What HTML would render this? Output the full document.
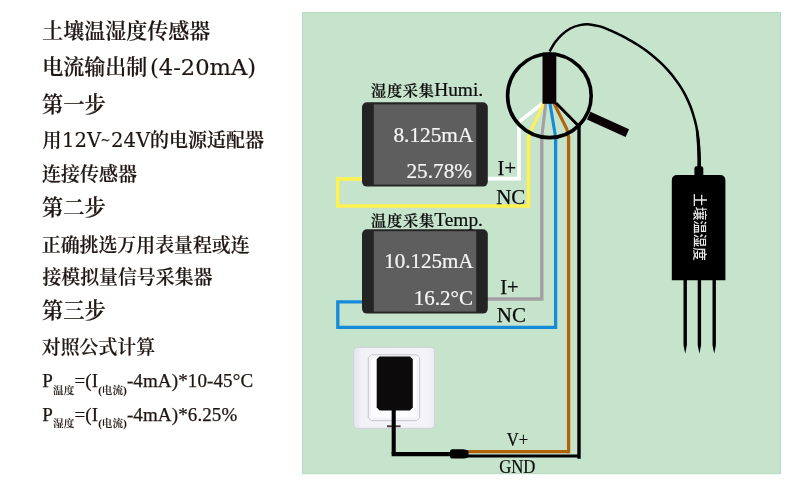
<!DOCTYPE html>
<html lang="zh-CN">
<head>
<meta charset="utf-8">
<title>土壤温湿度传感器 电流输出制(4-20mA)</title>
<style>
html,body{margin:0;padding:0;background:#fff;}
body{width:790px;height:485px;overflow:hidden;position:relative;}
svg{position:absolute;left:0;top:0;display:block;will-change:transform;}
.zh{font-family:"Liberation Serif","Noto Serif CJK SC",serif;font-weight:600;fill:#1f1512;stroke:#1f1512;stroke-width:0.18px;}
.lat{font-family:"DejaVu Serif","Liberation Serif",serif;font-weight:400;stroke:#1f1512;stroke-width:0.15px;}
.tm{font-family:"Liberation Serif","Noto Serif CJK SC",serif;font-weight:400;fill:#1f1512;stroke:#1f1512;stroke-width:0.25px;}
.sub{font-weight:600;stroke-width:0.1px;}
.lbl{font-family:"Liberation Serif","Noto Serif CJK SC",serif;font-weight:600;fill:#0d0d0d;stroke:#0d0d0d;stroke-width:0.2px;}
.io{font-family:"Liberation Serif",serif;font-weight:400;fill:#0d0d0d;stroke:#0d0d0d;stroke-width:0.25px;}
.disp{font-family:"Liberation Serif",serif;fill:#f6f6f6;stroke:#f6f6f6;stroke-width:0.2px;}
.hei{font-family:"Liberation Sans","Noto Sans CJK SC",sans-serif;fill:#e6e6e6;}
</style>
</head>
<body>
<svg width="790" height="485" viewBox="0 0 790 485">
  <!-- panel -->
  <rect x="302.5" y="12.5" width="478" height="461.2" fill="#c6e3cc"/>
  <rect x="302.5" y="12.5" width="478" height="461.2" fill="none" stroke="#b5dabf" stroke-width="1"/>

  <!-- left text -->
  <g id="lefttext">
    <text class="zh" x="42.3" y="37.7" font-size="21">土壤温湿度传感器</text>
    <text class="zh" x="42.3" y="73.8" font-size="21">电流输出制<tspan class="lat" font-size="22.6" dx="2.7" dy="1.2">(4-20mA)</tspan></text>
    <text class="zh" x="42" y="111.6" font-size="21.3">第一步</text>
    <text class="zh" y="147.2" font-size="19"><tspan x="42.4">用</tspan><tspan class="lat" font-size="19.6" x="62" dy="-0.3">12V</tspan><tspan class="lat" font-size="12" dy="-2.5" dx="-0.5">~</tspan><tspan class="lat" font-size="19.6" dy="2.5" dx="0.3">24V</tspan><tspan x="149.9" dy="0.3">的电源适配器</tspan></text>
    <text class="zh" x="42" y="180.5" font-size="19">连接传感器</text>
    <text class="zh" x="42" y="215" font-size="21.3">第二步</text>
    <text class="zh" x="41.8" y="251.6" font-size="18.9">正确挑选万用表量程或连</text>
    <text class="zh" x="42.4" y="283.6" font-size="18.9">接模拟量信号采集器</text>
    <text class="zh" x="42" y="318.4" font-size="21.3">第三步</text>
    <text class="zh" x="41.8" y="354.3" font-size="18.9">对照公式计算</text>
    <text class="tm" x="42.3" y="387" font-size="19" letter-spacing="0.12">P<tspan class="sub" font-size="10.6" dy="6.6">温度</tspan><tspan dy="-6.6">=(I</tspan><tspan class="sub" font-size="10.6" dy="6.6">(电流)</tspan><tspan dy="-6.6">-4mA)*10-45°C</tspan></text>
    <text class="tm" x="42.3" y="420.5" font-size="19" letter-spacing="0.12">P<tspan class="sub" font-size="10.6" dy="6.6">湿度</tspan><tspan dy="-6.6">=(I</tspan><tspan class="sub" font-size="10.6" dy="6.6">(电流)</tspan><tspan dy="-6.6">-4mA)*6.25%</tspan></text>
  </g>

  <!-- wires -->
  <g fill="none" stroke-linejoin="miter">
    <path d="M486,178.6 H519 V121.8 L542.5,103.5" stroke="#ffffff" stroke-width="3.6"/>
    <path d="M363,178.9 H337.8 V206 H528.5 V136" stroke="#fff150" stroke-width="3.5"/>
    <path d="M528.5,137 L531.6,129 L544,103" stroke="#fff150" stroke-width="3.1"/>
    <path d="M486,299 H541.8 V136" stroke="#a39fa4" stroke-width="3.4"/>
    <path d="M541.8,137 L545.8,103" stroke="#a39fa4" stroke-width="3.1"/>
    <path d="M363,301.8 H337.8 V327.3 H555.6 V136" stroke="#168bd9" stroke-width="3.3"/>
    <path d="M555.6,137 L549.9,103" stroke="#168bd9" stroke-width="3.1"/>
    <path d="M466,451.6 H568.6" stroke="#b0630a" stroke-width="3.2"/>
    <path d="M568.6,453.2 V136" stroke="#b0630a" stroke-width="3.3"/>
    <path d="M568.6,137 L566.8,129 L553.8,103" stroke="#b0630a" stroke-width="3.1"/>
    <path d="M466,456 H579" stroke="#000" stroke-width="3.1"/>
    <path d="M579,458.7 V126" stroke="#000" stroke-width="3.4"/>
    
    <path d="M579.6,127 L556,103" stroke="#000" stroke-width="3"/>
  </g>

  <!-- magnifier -->
  <rect x="542.5" y="52.5" width="13.8" height="51.3" fill="#0a0204"/>
  <circle cx="549.4" cy="95.8" r="41.8" fill="none" stroke="#000" stroke-width="3.6"/>
  <line x1="588.7" y1="115.7" x2="627.3" y2="133.05" stroke="#0a0204" stroke-width="8.4"/>

  <!-- cable to sensor -->
  <path d="M549.6,51.5 C550.5,50.0 552.9,45.4 554.9,42.6 C557.0,39.8 559.3,37.0 561.9,34.6 C564.5,32.3 567.3,30.1 570.3,28.5 C573.3,26.9 576.5,25.8 579.8,25.1 C583.1,24.4 586.5,24.2 589.8,24.4 C593.2,24.7 596.5,25.5 599.9,26.4 C603.2,27.3 606.4,28.7 609.7,30.1 C612.9,31.4 616.1,33.0 619.2,34.5 C622.3,36.1 625.3,37.6 628.3,39.3 C631.3,40.9 634.2,42.7 637.1,44.5 C640.0,46.3 642.9,48.3 645.7,50.3 C648.5,52.4 651.2,54.5 653.9,56.7 C656.5,58.9 659.1,61.3 661.6,63.7 C664.0,66.1 666.4,68.6 668.7,71.2 C671.0,73.7 673.2,76.4 675.2,79.2 C677.3,81.9 679.3,84.7 681.1,87.6 C682.9,90.6 684.6,93.6 686.1,96.6 C687.6,99.7 689.0,102.8 690.3,106.0 C691.5,109.2 692.7,112.5 693.6,115.8 C694.6,119.1 695.5,122.4 696.2,125.8 C696.9,129.2 697.5,132.6 698.0,136.0 C698.5,139.4 698.8,142.9 699.0,146.3 C699.3,149.8 699.4,153.3 699.4,156.7 C699.3,160.1 699.0,165.3 699.0,167.0" fill="none" stroke="#000" stroke-width="2.5"/>
  <path d="M695.75,130 L696.9,144.5 L697.4,161 V167 H701 V161 L699.95,144.5 L698.25,130 Z" fill="#000"/>
  <path d="M694.4,176 V168.5 Q694.4,166.2 696.7,166.2 H701 Q703.3,166.2 703.3,168.5 V176 Z" fill="#000"/>

  <!-- sensor -->
  <path d="M671.8,280.2 V180.5 Q671.8,175 677.3,175 H719.9 Q725.4,175 725.4,180.5 V280.2 Z" fill="#000"/>
  <path d="M683.5,279 H686.9 V345 L685.2,353.8 L683.5,345 Z" fill="#000"/>
  <path d="M697.7,279 H701.1 V345 L699.4,353.8 L697.7,345 Z" fill="#000"/>
  <path d="M712.5,279 H715.9 V345 L714.2,353.8 L712.5,345 Z" fill="#000"/>
  <text class="hei" font-size="13.5" font-weight="500" text-anchor="middle" transform="translate(695.3,227) rotate(90)" x="0" y="0">土壤温湿度</text>

  <!-- humidity meter -->
  <rect x="362" y="102.2" width="125.8" height="84.4" rx="5" ry="5" fill="#242424"/>
  <rect x="373.8" y="104.4" width="102.4" height="80.2" fill="#5e5e5e"/>
  <text class="lbl" x="370.9" y="95.5" font-size="15.2" letter-spacing="0.8">湿度采集<tspan font-size="19.4" font-weight="400" letter-spacing="0" dx="-0.7">Humi.</tspan></text>
  <text class="disp" x="473.3" y="141.7" font-size="21.3" text-anchor="end">8.125mA</text>
  <text class="disp" x="472.1" y="178.3" font-size="21.3" text-anchor="end">25.78%</text>
  <text class="io" x="497.6" y="175" font-size="20.5">I+</text>
  <text class="io" x="496.2" y="203.8" font-size="21">NC</text>

  <!-- temperature meter -->
  <rect x="362" y="229.2" width="125.8" height="84.4" rx="5" ry="5" fill="#242424"/>
  <rect x="373.8" y="231.2" width="102.4" height="80.4" fill="#5e5e5e"/>
  <text class="lbl" x="371.1" y="225.7" font-size="15.2" letter-spacing="0.8">温度采集<tspan font-size="19.4" font-weight="400" letter-spacing="0" dx="-0.8">Temp.</tspan></text>
  <text class="disp" x="473.4" y="267.6" font-size="21" text-anchor="end">10.125mA</text>
  <text class="disp" x="473" y="305" font-size="21" text-anchor="end">16.2°C</text>
  <text class="io" x="500.3" y="294" font-size="20.5">I+</text>
  <text class="io" x="496.8" y="322.2" font-size="21">NC</text>

  <!-- socket + adapter -->
  <defs>
    <linearGradient id="plateg" x1="0" y1="0" x2="1" y2="0">
      <stop offset="0" stop-color="#e4e4ee"/>
      <stop offset="0.1" stop-color="#f1f1f6"/>
      <stop offset="0.9" stop-color="#f4f4f8"/>
      <stop offset="1" stop-color="#ebebf1"/>
    </linearGradient>
  </defs>
  <rect x="353.6" y="347.4" width="81" height="80.9" rx="3.2" ry="3.2" fill="url(#plateg)" stroke="#d0d0dc" stroke-width="1"/>
  <path d="M371.3,354.8 H416.6 L419.6,357.8 V417.6 L416.6,420.6 H371.3 L368.3,417.6 V357.8 Z" fill="#f8f8fb" stroke="#c6c4ce" stroke-width="1"/>
  <path d="M372.6,357 H415.3 L417.4,359.1 V416.3 L415.3,418.4 H372.6 L370.5,416.3 V359.1 Z" fill="#fcfcfe" stroke="#eae9ef" stroke-width="0.7"/>
  <rect x="387" y="425.3" width="13.6" height="1.9" fill="#4e443c"/>
  <path d="M379.5,356.4 H410 L412.8,359.2 V407.5 L409.8,410.5 H379.7 L376.7,407.5 V359.2 Z" fill="#0c0a0a"/>
  <path d="M393.7,410 V454.2" fill="none" stroke="#000" stroke-width="4.1"/>
  <path d="M391.65,454.2 H451" fill="none" stroke="#000" stroke-width="4.2"/>
  <path d="M452.5,449.2 H463 Q466,449.2 468.5,451 V457 Q466,458.6 463,458.6 H452.5 Q450,458.6 450,456 V451.8 Q450,449.2 452.5,449.2 Z" fill="#000"/>

  <text class="io" transform="translate(506.7,446) scale(0.88,1)" font-size="18.8">V+</text>
  <text class="io" transform="translate(499.2,472.6) scale(0.915,1)" font-size="18.3">GND</text>
</svg>
</body>
</html>
